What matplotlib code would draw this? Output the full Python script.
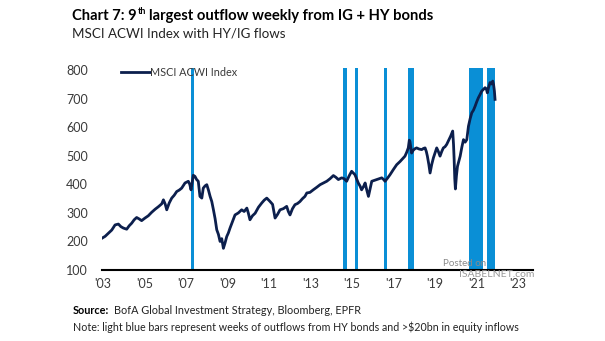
import matplotlib
matplotlib.use("Agg")
import matplotlib.pyplot as plt

# MSCI ACWI index (decimal year on the chart's axis, value)
dates = [2002.94, 2003.10, 2003.26, 2003.42, 2003.58, 2003.74, 2003.86, 2003.98,
         2004.14, 2004.26, 2004.38, 2004.50, 2004.62, 2004.74, 2004.86, 2005.02,
         2005.18, 2005.34, 2005.51, 2005.67, 2005.83, 2005.91, 2006.00, 2006.07,
         2006.19, 2006.31, 2006.43, 2006.55, 2006.67, 2006.79, 2006.95, 2007.11,
         2007.18, 2007.24, 2007.35, 2007.43, 2007.51, 2007.59, 2007.67, 2007.76,
         2007.83, 2007.92, 2008.00, 2008.08, 2008.16, 2008.24, 2008.32, 2008.40,
         2008.48, 2008.56, 2008.64, 2008.72, 2008.80, 2008.88, 2008.96, 2009.04,
         2009.12, 2009.24, 2009.36, 2009.52, 2009.68, 2009.80, 2009.93, 2010.00,
         2010.08, 2010.20, 2010.33, 2010.49, 2010.65, 2010.77, 2010.89, 2011.05,
         2011.17, 2011.29, 2011.41, 2011.53, 2011.69, 2011.85, 2011.93, 2012.01,
         2012.13, 2012.25, 2012.37, 2012.49, 2012.61, 2012.73, 2012.82, 2012.97,
         2013.13, 2013.30, 2013.46, 2013.62, 2013.78, 2013.94, 2014.10, 2014.22,
         2014.34, 2014.50, 2014.62, 2014.74, 2014.86, 2014.98, 2015.06, 2015.14,
         2015.22, 2015.30, 2015.38, 2015.46, 2015.55, 2015.63, 2015.71, 2015.79,
         2015.87, 2015.95, 2016.07, 2016.19, 2016.31, 2016.43, 2016.51, 2016.59,
         2016.71, 2016.83, 2016.99, 2017.15, 2017.31, 2017.47, 2017.55, 2017.63,
         2017.71, 2017.76, 2017.79, 2017.87, 2017.95, 2018.03, 2018.11, 2018.23,
         2018.36, 2018.44, 2018.52, 2018.58, 2018.63, 2018.70, 2018.76, 2018.84,
         2018.92, 2019.00, 2019.08, 2019.16, 2019.24, 2019.32, 2019.40, 2019.48,
         2019.56, 2019.66, 2019.75, 2019.85, 2019.89, 2019.92, 2019.95, 2019.98,
         2020.03, 2020.08, 2020.14, 2020.21, 2020.29, 2020.37, 2020.45, 2020.53,
         2020.61, 2020.69, 2020.77, 2020.85, 2020.93, 2021.01, 2021.09, 2021.17,
         2021.25, 2021.33, 2021.41, 2021.47, 2021.52, 2021.58, 2021.65, 2021.72,
         2021.78, 2021.82, 2021.86, 2021.89]
acwi = [211, 218, 229, 240, 258, 261, 252, 247,
        243, 255, 264, 276, 284, 279, 273, 282,
        290, 302, 313, 322, 332, 346, 330, 311,
        335, 352, 362, 375, 380, 387, 405, 411,
        400, 381, 432, 428, 417, 411, 358, 352,
        387, 395, 399, 380, 358, 340, 311, 280,
        241, 225, 200, 210, 176, 195, 217, 230,
        247, 270, 293, 300, 311, 305, 317, 300,
        276, 290, 299, 320, 335, 345, 352, 340,
        330, 282, 295, 311, 315, 323, 305, 293,
        315, 329, 333, 340, 350, 358, 370, 372,
        381, 390, 399, 405, 411, 420, 431, 425,
        417, 423, 420, 411, 430, 446, 440, 434,
        420, 405, 395, 381, 392, 405, 380, 358,
        385, 411, 414, 417, 420, 423, 418, 411,
        422, 434, 452, 469, 480, 493, 499, 512,
        528, 555, 550, 510, 520, 525, 528, 524,
        522, 526, 528, 515, 499, 470, 440, 470,
        493, 510, 528, 515, 499, 515, 528, 532,
        540, 555, 569, 587, 540, 487, 420, 384,
        430, 463, 480, 499, 530, 557, 548, 557,
        604, 630, 651, 660, 674, 690, 704, 715,
        727, 733, 739, 735, 721, 740, 757, 752,
        762, 750, 727, 698]

# weeks of HY outflows and >$20bn equity inflows (start, end)
flow_start = [2007.24, 2014.58, 2015.12, 2016.52, 2017.70, 2020.65, 2021.52]
flow_end = [2007.40, 2014.74, 2015.27, 2016.67, 2017.98, 2021.29, 2021.89]

year_ticks = list(range(2003, 2024, 2))
year_labels = ["'03", "'05", "'07", "'09", "'11", "'13", "'15", "'17", "'19", "'21", "'23"]
y_ticks = [100, 200, 300, 400, 500, 600, 700, 800]

plt.rcParams['font.family'] = ['Lato', 'DejaVu Sans']

navy = '#0c1f4d'
blue = '#0a8fd6'
grey = '#3a3a3a'

fig = plt.figure(figsize=(6.05, 3.41), dpi=100)
ax = fig.add_axes([102/605, 1-270/341, (533-102)/605, (270-68)/341])

for s, e in zip(flow_start, flow_end):
    ax.axvspan(s, e, color=blue, lw=0, zorder=1)
ax.plot(dates, acwi, color=navy, lw=2.0, zorder=3, label='MSCI ACWI Index')

ax.set_xlim(2002.95, 2023.72)
ax.set_ylim(100, 808)
ax.set_xticks(year_ticks)
ax.set_xticklabels(year_labels)
ax.set_yticks(y_ticks)
ax.tick_params(axis='both', length=0, labelsize=9, colors=grey)
ax.tick_params(axis='x', pad=6)
ax.tick_params(axis='y', pad=10)
for side in ['top', 'right', 'left']:
    ax.spines[side].set_visible(False)
ax.spines['bottom'].set_linewidth(1.5)
ax.spines['bottom'].set_color('black')

leg = ax.legend(loc='upper left', bbox_to_anchor=(0.035, 1.025), frameon=False,
                fontsize=7.8, handlelength=2.6, handletextpad=0.05,
                borderaxespad=0)
for t in leg.get_texts():
    t.set_color(grey)

# title with superscript
fig.canvas.draw()
r = fig.canvas.get_renderer()
t1 = fig.text(72/605, 1-20/341, 'Chart 7: 9', fontsize=10.6, fontweight='bold', color='black')
bb = t1.get_window_extent(r)
t2 = fig.text(bb.x1/605 + 0.002, 1-14/341, 'th', fontsize=6.5, fontweight='bold', color='black')
bb2 = t2.get_window_extent(r)
fig.text(bb2.x1/605 + 0.005, 1-20/341, 'largest outflow weekly from IG + HY bonds',
         fontsize=10.6, fontweight='bold', color='black')
fig.text(72/605, 1-38/341, 'MSCI ACWI Index with HY/IG flows', fontsize=9.6, color='#222222')

# footer
s1 = fig.text(73/605, 1-314/341, 'Source:', fontsize=7.8, fontweight='bold', color='black')
bb3 = s1.get_window_extent(r)
fig.text(bb3.x1/605 + 0.008, 1-314/341, 'BofA Global Investment Strategy, Bloomberg, EPFR',
         fontsize=7.8, color='#222222')
fig.text(73/605, 1-331/341,
         'Note: light blue bars represent weeks of outflows from HY bonds and >$20bn in equity inflows',
         fontsize=7.7, color='#222222')

# watermark
fig.text(443/605, 1-266/341, 'Posted on', fontsize=7, color='#8a8a8a')
fig.text(459/605, 1-277/341, 'ISABELNET.com', fontsize=7.5, color='#9a9a9a')

fig.savefig('out.png', dpi=100)
